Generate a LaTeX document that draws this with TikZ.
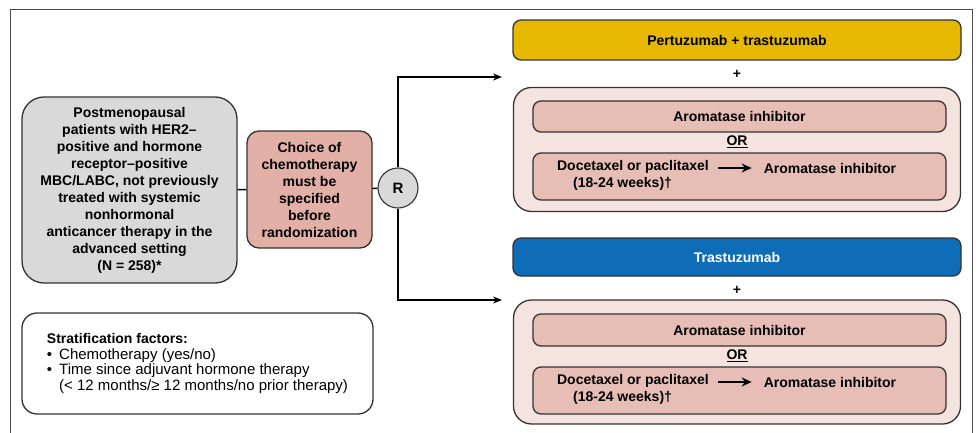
\documentclass[tikz,border=0pt]{standalone}
\usepackage{fontspec}
\setmainfont{Liberation Sans}
\usetikzlibrary{positioning,calc,arrows.meta}
\definecolor{ptgray}{HTML}{D9D9D9}
\definecolor{chemopink}{HTML}{E3B0A7}
\definecolor{armpink}{HTML}{F5E3E0}
\definecolor{drugpink}{HTML}{E6BEB6}
\definecolor{pertyellow}{HTML}{E6B800}
\definecolor{trasblue}{HTML}{0E6DB6}
\newcommand{\boxfont}{\bfseries\fontsize{14}{17}\selectfont}
\newcommand{\bul}{\textbullet\hspace{7pt}}

\begin{document}
\begin{tikzpicture}[x=1pt,y=-1pt,
    box/.style={draw=black!80,line width=1.3pt,align=center,inner sep=0pt,font=\boxfont},
    arm/.style={box,fill=armpink,rounded corners=18pt,minimum width=447pt,minimum height=124pt},
    drug/.style={box,fill=drugpink,rounded corners=8pt,minimum width=413pt},
    link/.style={line width=1.5pt,black},
    arrow/.style={link,-{Stealth[length=9pt,width=7pt]}},
    seqarrow/.style={line width=2.2pt,-{Stealth[length=10pt,width=9pt]},shorten >=12pt}]
  \useasboundingbox (0,0) rectangle (979,433);
  % frame, open at the bottom
  \draw[black!70,line width=0.9pt] (10,440) -- (10,9) -- (972,9) -- (972,440);

  % patients and randomization
  \node[box,fill=ptgray,rounded corners=22pt,minimum width=215pt,minimum height=186pt] (pts) at (129.5,190)
    {Postmenopausal\\patients with HER2--\\positive and hormone\\receptor--positive\\MBC/LABC, not previously\\treated with systemic\\nonhormonal\\anticancer therapy in the\\advanced setting\\(N = 258)*};
  \node[box,fill=chemopink,rounded corners=12pt,minimum width=125pt,minimum height=117pt] (choice) at (309.5,189.5)
    {Choice of\\chemotherapy\\must be\\specified\\before\\randomization};
  \node[box,circle,fill=ptgray,line width=1.1pt,minimum size=40pt,font=\bfseries\fontsize{15}{17}\selectfont] (rand) at (398,188) {R};
  \draw[link] (pts) -- (choice);
  \draw[link] (choice) -- (rand);
  \coordinate (toarm1) at (502,77);
  \coordinate (toarm2) at (502,300);
  \draw[arrow] (rand.north) |- (toarm1);
  \draw[arrow] (rand.south) |- (toarm2);

  % stratification
  \node[box,fill=white,rounded corners=15pt,minimum width=351pt,minimum height=101pt,align=left,
        font=\fontsize{15}{15.5}\selectfont] (strat) at (197.5,363.5)
    {{\boxfont Stratification factors:}\\
     \bul Chemotherapy (yes/no)\\
     \bul Time since adjuvant hormone therapy\\
     \phantom{\bul}(< 12 months/≥ 12 months/no prior therapy)};

  % arm 1
  \node[box,fill=pertyellow,rounded corners=8pt,minimum width=448pt,minimum height=40pt] (pert) at (737,40) {Pertuzumab + trastuzumab};
  \node[font=\boxfont] (plus1) at (737,74) {+};
  \node[arm] (arm1) at (737,149.5) {};
  \node[drug,minimum height=31pt] (ai1) at (739.5,116.5) {Aromatase inhibitor};
  \node[font=\boxfont] (or1) at (737,142) {\underline{OR}};
  \node[drug,minimum height=47pt] (seq1) at (739.5,176.5) {};
  \node[font=\boxfont,align=left,inner sep=0pt] (tax1) at (633,175.5) {Docetaxel or paclitaxel\\\hspace*{16pt}(18-24 weeks)†};
  \node[font=\boxfont,inner sep=0pt] (aiseq1) at (830,168) {Aromatase inhibitor};
  \draw[seqarrow] (718,168) -- (aiseq1.west);

  % arm 2
  \node[box,fill=trasblue,text=white,rounded corners=8pt,minimum width=448pt,minimum height=38pt] (tras) at (737,257) {Trastuzumab};
  \node[font=\boxfont] (plus2) at (737,290) {+};
  \node[arm] (arm2) at (737,362) {};
  \node[drug,minimum height=32pt] (ai2) at (739.5,330) {Aromatase inhibitor};
  \node[font=\boxfont] (or2) at (737,356) {\underline{OR}};
  \node[drug,minimum height=47pt] (seq2) at (739.5,390.5) {};
  \node[font=\boxfont,align=left,inner sep=0pt] (tax2) at (633,389.5) {Docetaxel or paclitaxel\\\hspace*{16pt}(18-24 weeks)†};
  \node[font=\boxfont,inner sep=0pt] (aiseq2) at (830,382) {Aromatase inhibitor};
  \draw[seqarrow] (718,382) -- (aiseq2.west);
\end{tikzpicture}
\end{document}
